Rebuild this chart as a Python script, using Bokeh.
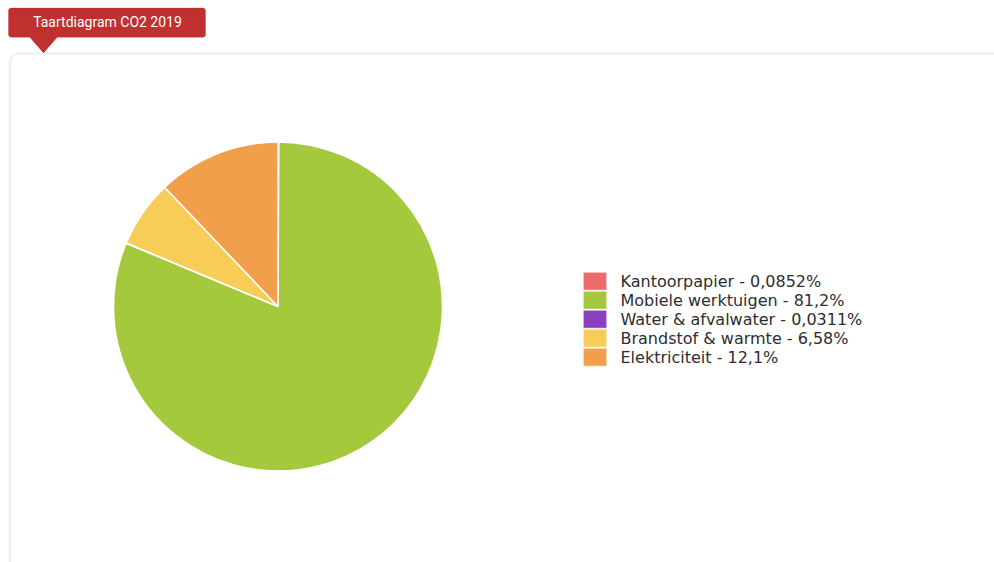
import numpy as np
from bokeh.plotting import figure
from bokeh.models import Range1d, BoxAnnotation, ColumnDataSource
from bokeh.core.properties import value
from bokeh.embed import file_html
from bokeh.resources import INLINE

# ---- data ----
title_text = "Taartdiagram CO2 2019"
categories = ["Kantoorpapier", "Mobiele werktuigen", "Water & afvalwater",
              "Brandstof & warmte", "Elektriciteit"]
percentages = [0.0852, 81.2, 0.0311, 6.58, 12.1]
percent_labels = ["0,0852%", "81,2%", "0,0311%", "6,58%", "12,1%"]
colors = ["#ee6b6b", "#a4c93c", "#8a3fbf", "#f7cd58", "#f29f4c"]

W, H = 994, 562
p = figure(width=W, height=H, output_backend="svg", toolbar_location=None,
           x_range=Range1d(0, W), y_range=Range1d(0, H), min_border=0,
           outline_line_color=None, background_fill_color="white",
           border_fill_color="white")
p.axis.visible = False
p.grid.visible = False

def Y(t):  # t: pixels from the top of the page
    return H - t

# panel with rounded border (extends beyond the visible area)
p.add_layout(BoxAnnotation(left=9.5, right=W + 40, top=Y(53), bottom=-40,
                           fill_color="white", fill_alpha=1.0,
                           line_color="#d2d2d2", line_width=2.5,
                           border_radius=9, level="underlay"))

# red title tab
p.add_layout(BoxAnnotation(left=8, right=205, top=Y(7.5), bottom=Y(36.7),
                           fill_color="#c0302f", fill_alpha=1.0,
                           line_color="#b82c2b", line_width=1,
                           border_radius=3, level="underlay"))
p.patch(x=[29, 57, 43], y=[Y(36), Y(36), Y(52)], fill_color="#c0302f",
        line_color="#c0302f", line_width=1)
p.text(x=[107], y=[Y(21.5)], text=[title_text], text_color="white",
       text_font=value("Roboto"), text_font_size="14px",
       text_align="center", text_baseline="middle")

# pie
vals = np.array(percentages, dtype=float)
frac = vals / vals.sum()
cum = np.concatenate([[0.0], np.cumsum(frac)])
start = np.pi / 2 - 2 * np.pi * cum[1:]
end = np.pi / 2 - 2 * np.pi * cum[:-1]
src = ColumnDataSource(dict(x=[277.5] * len(vals), y=[Y(306)] * len(vals),
                            start=start, end=end, color=colors))
p.wedge(x="x", y="y", radius=164.5, radius_units="screen",
        start_angle="start", end_angle="end", direction="anticlock",
        fill_color="color", line_color="white", line_width=1.5, source=src)

# legend (drawn from the same data)
n = len(categories)
rows = np.arange(n)
leg = ColumnDataSource(dict(
    x=[594.5] * n, y=[Y(280.7 + 19 * i) for i in rows],
    tx=[620] * n, color=colors,
    label=[f"{c} - {l}" for c, l in zip(categories, percent_labels)]))
p.rect(x="x", y="y", width=23.5, height=18, width_units="screen",
       height_units="screen", fill_color="color", line_color="white",
       line_alpha=0.6, line_width=1, source=leg)
p.text(x="tx", y="y", text="label", text_font=value("DejaVu Sans"),
       text_font_size="16px", text_color="#2e2e2e", text_baseline="middle",
       text_align="left", source=leg)

open("out.html", "w").write(file_html(p, INLINE))
